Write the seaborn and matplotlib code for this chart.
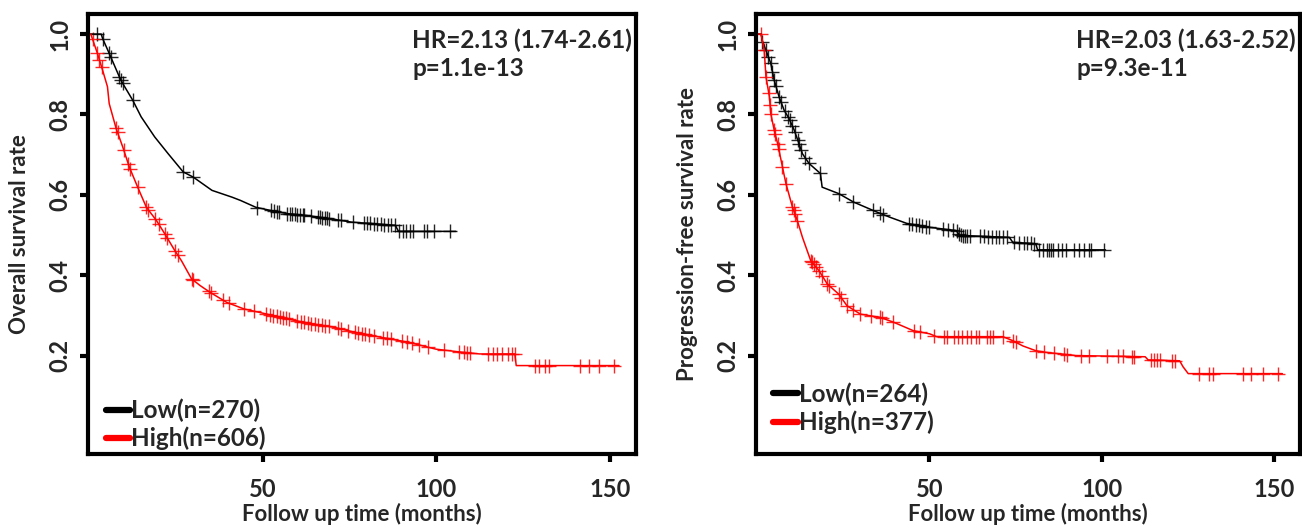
import numpy as np
import matplotlib
matplotlib.use("Agg")
import matplotlib.pyplot as plt
import seaborn as sns

# ---- overall survival (left) ----
os_low_t = [0, 3.5, 3.9, 5.8, 8.7, 9.7, 12.6, 15.0, 18.9, 22.8, 27.1, 30.0, 35.4, 41.2, 43.6,
            48.0, 52.3, 57.2, 64.0, 69.8, 75.6, 80.4, 88.2, 89.1, 105.6]
os_low_s = [1.0, 1.0, 0.989, 0.952, 0.894, 0.877, 0.835, 0.794, 0.744, 0.702, 0.657, 0.644, 0.611,
            0.594, 0.586, 0.569, 0.561, 0.553, 0.547, 0.540, 0.532, 0.529, 0.524, 0.509, 0.509]
os_low_cens = [2.4, 4.0, 5.8, 6.3, 8.7, 9.2, 9.7, 12.6, 27.1, 30.0, 48.5, 52.3, 53.2, 54.0, 54.6,
               57.1, 57.8, 58.5, 59.2, 60.0, 60.8, 61.5, 62.0, 64.0, 65.8, 66.5, 67.2, 67.8, 68.5,
               69.2, 71.6, 72.5, 75.9, 79.2, 80.0, 81.0, 82.0, 83.0, 84.0, 85.0, 86.0, 87.0, 88.0,
               89.3, 90.4, 91.4, 92.4, 93.3, 96.4, 97.4, 99.4, 104.0]

os_high_t = [0, 0.5, 2.4, 3.9, 5.3, 5.8, 7.8, 9.7, 11.6, 14.0, 16.5, 19.4, 21.8, 24.7, 26.6, 29.5,
             32.0, 34.9, 39.7, 44.6, 51.3, 57.2, 64.0, 70.7, 76.5, 84.3, 92.0, 99.8, 107.6, 112.4,
             122.6, 123.0, 152.6]
os_high_s = [1.0, 1.0, 0.952, 0.910, 0.869, 0.827, 0.765, 0.719, 0.669, 0.619, 0.569, 0.536, 0.503,
             0.461, 0.436, 0.391, 0.374, 0.357, 0.332, 0.316, 0.303, 0.291, 0.279, 0.270, 0.258,
             0.245, 0.233, 0.216, 0.208, 0.204, 0.204, 0.175, 0.175]
os_high_cens = [1.0, 2.4, 3.0, 3.6, 7.8, 8.2, 10.0, 11.3, 11.8, 14.0, 16.5, 17.0, 19.0, 20.0, 21.8,
                22.5, 24.7, 25.5, 29.5, 30.0, 34.4, 35.0, 38.7, 40.2, 44.6, 47.4, 51.0, 52.0, 53.0,
                54.0, 55.0, 55.8, 56.6, 57.7, 60.0, 61.0, 62.0, 63.0, 64.0, 65.0, 66.0, 67.0, 68.0,
                69.0, 71.7, 72.6, 74.6, 76.5, 77.5, 78.5, 79.5, 80.5, 82.0, 84.7, 85.8, 87.0, 90.0,
                91.5, 93.0, 95.0, 97.7, 102.3, 106.4, 108.0, 108.8, 109.6, 115.0, 116.2, 117.5,
                118.8, 120.5, 121.7, 122.6, 128.4, 129.5, 131.3, 132.4, 141.3, 144.0, 146.8, 151.2]

# ---- progression-free survival (right) ----
pfs_low_t = [0, 1.2, 1.6, 2.6, 4.0, 5.0, 6.4, 7.9, 9.3, 10.8, 12.2, 13.2, 15.1, 18.4, 18.9, 23.7,
             28.0, 34.8, 38.6, 43.4, 50.1, 57.8, 58.8, 73.2, 74.2, 80.9, 81.4, 101.1]
pfs_low_s = [1.0, 1.0, 0.981, 0.960, 0.927, 0.885, 0.844, 0.810, 0.790, 0.761, 0.727, 0.702, 0.678,
             0.653, 0.619, 0.603, 0.582, 0.557, 0.544, 0.529, 0.519, 0.511, 0.499, 0.494, 0.482,
             0.478, 0.463, 0.463]
pfs_low_cens = [1.6, 2.6, 3.3, 4.0, 4.5, 5.0, 5.5, 6.4, 7.0, 8.0, 9.0, 9.5, 10.3, 11.0, 11.8, 12.2,
                12.8, 14.0, 15.0, 18.4, 23.7, 28.0, 33.7, 35.7, 36.6, 44.0, 45.0, 46.0, 47.0, 48.0,
                49.0, 50.0, 54.0, 55.4, 56.8, 57.9, 58.6, 59.2, 59.8, 60.3, 60.8, 61.7, 64.6, 65.8,
                67.0, 68.2, 69.2, 70.2, 71.4, 72.6, 74.6, 76.0, 77.4, 78.4, 79.4, 80.4, 81.8, 83.0,
                84.0, 84.6, 85.2, 86.0, 87.2, 88.4, 89.6, 91.9, 93.4, 94.8, 96.2, 97.0, 100.6]

pfs_high_t = [0, 1.2, 2.1, 2.6, 3.6, 4.0, 5.0, 6.0, 7.4, 8.4, 10.3, 11.7, 13.2, 15.6, 18.0, 20.4,
              23.7, 26.1, 30.0, 35.7, 39.6, 45.3, 50.1, 52.1, 71.3, 74.2, 77.1, 80.9, 83.8, 92.5,
              112.6, 113.5, 122.6, 123.6, 125.1, 152.4]
pfs_high_s = [1.0, 1.0, 0.960, 0.894, 0.844, 0.802, 0.761, 0.727, 0.669, 0.628, 0.569, 0.536, 0.494,
              0.436, 0.411, 0.378, 0.353, 0.324, 0.303, 0.295, 0.283, 0.262, 0.254, 0.247, 0.247,
              0.237, 0.224, 0.212, 0.208, 0.200, 0.197, 0.189, 0.187, 0.172, 0.155, 0.155]
pfs_high_cens = [1.2, 2.1, 2.6, 3.4, 3.8, 4.0, 5.0, 5.3, 6.0, 6.3, 7.4, 8.4, 10.3, 10.6, 11.0, 11.7,
                 15.6, 16.0, 16.5, 17.0, 18.0, 19.0, 20.4, 21.0, 23.7, 24.5, 26.1, 28.0, 30.0, 33.0,
                 35.7, 36.2, 39.6, 45.5, 47.4, 51.3, 54.2, 55.1, 57.1, 58.3, 59.6, 60.9, 62.2, 63.4,
                 64.5, 66.7, 67.6, 68.5, 71.3, 74.2, 75.2, 81.0, 83.3, 86.2, 89.1, 90.0, 93.9, 96.3,
                 101.5, 104.8, 106.3, 108.7, 109.5, 114.2, 115.1, 116.0, 117.0, 120.5, 121.4, 128.1,
                 131.0, 132.4, 141.0, 143.4, 146.7, 151.0]

x_ticks = [50, 100, 150]
y_ticks = [0.2, 0.4, 0.6, 0.8, 1.0]

sns.set_theme(style="ticks")
plt.rcParams["font.family"] = ["Lato", "DejaVu Sans"]
plt.rcParams["font.weight"] = "bold"

FS_TICK = 17
FS_LAB = 16
FS_TXT = 17.5


def draw_km(ax, low, high, low_label, high_label, ylabel, hr_text, leg_y):
    for (t, s, cens), col, lab in [(low, "black", low_label), (high, "red", high_label)]:
        sns.lineplot(x=t, y=s, ax=ax, color=col, lw=1.1, label=lab, estimator=None, sort=False)
        cy = np.interp(cens, t, s)
        sns.scatterplot(x=cens, y=cy, ax=ax, color=col, marker="+", s=90, linewidth=1.0,
                        legend=False, alpha=0.85)
    ax.set_xlim(-0.3, 157.5)
    ax.set_ylim(-0.045, 1.05)
    ax.set_xticks(x_ticks)
    ax.set_yticks(y_ticks)
    ax.set_xticklabels([str(v) for v in x_ticks], fontsize=FS_TICK, fontweight="bold")
    ax.set_yticklabels([f"{v:.1f}" for v in y_ticks], fontsize=FS_TICK, fontweight="bold",
                       rotation=90, va="center")
    ax.tick_params(axis="both", direction="out", length=6, width=3, color="black")
    ax.tick_params(axis="x", pad=11)
    ax.tick_params(axis="y", pad=6)
    for sp in ax.spines.values():
        sp.set_visible(True)
        sp.set_linewidth(3)
        sp.set_color("black")
    ax.set_xlabel("Follow up time (months)", fontsize=FS_LAB, fontweight="bold", labelpad=2)
    ax.set_ylabel(ylabel, fontsize=FS_LAB, fontweight="bold", labelpad=13)
    ax.text(0.993, 0.968, hr_text, transform=ax.transAxes, ha="right", va="top",
            multialignment="left", fontsize=FS_TXT, fontweight="bold", linespacing=1.3)
    leg = ax.legend(loc="lower left", bbox_to_anchor=(0.032, leg_y), frameon=False,
                    handlelength=1.0, handletextpad=0.05, borderpad=0,
                    borderaxespad=0, labelspacing=0.2, prop={"weight": "bold", "size": FS_TXT})
    for h in leg.get_lines():
        h.set_linewidth(4.5)


fig = plt.figure(figsize=(13.02, 5.29), dpi=100)
ax1 = fig.add_axes([0.0676, 0.1418, 0.4209, 0.8318])
ax2 = fig.add_axes([0.5806, 0.1418, 0.4178, 0.8318])

draw_km(ax1, (os_low_t, os_low_s, os_low_cens), (os_high_t, os_high_s, os_high_cens),
        "Low(n=270)", "High(n=606)", "Overall survival rate",
        "HR=2.13 (1.74-2.61)\np=1.1e-13", 0.008)
draw_km(ax2, (pfs_low_t, pfs_low_s, pfs_low_cens), (pfs_high_t, pfs_high_s, pfs_high_cens),
        "Low(n=264)", "High(n=377)", "Progression-free survival rate",
        "HR=2.03 (1.63-2.52)\np=9.3e-11", 0.045)

fig.savefig("out.png", dpi=100)
